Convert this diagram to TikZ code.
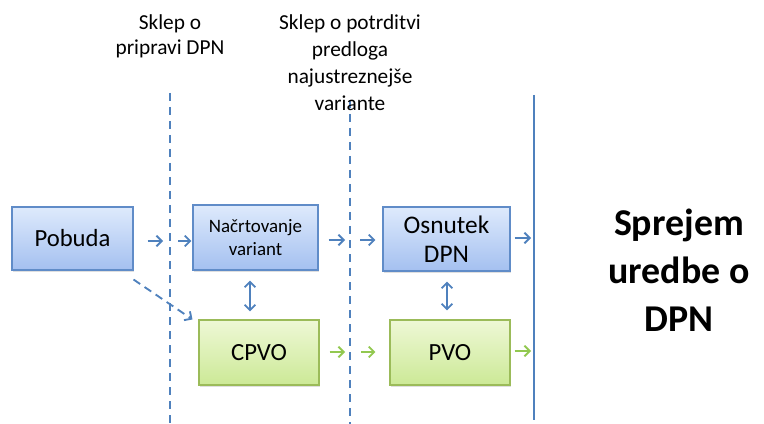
\documentclass[tikz,border=0pt]{standalone}
\usepackage{fontspec}
\setmainfont{Carlito}
\usetikzlibrary{arrows.meta,calc,shadows}
\definecolor{lineblue}{RGB}{79,129,189}
\definecolor{boxedge}{RGB}{96,140,200}
\definecolor{bluetop}{RGB}{222,234,252}
\definecolor{bluebot}{RGB}{164,192,240}
\definecolor{greenedge}{RGB}{155,187,89}
\definecolor{greentop}{RGB}{238,248,214}
\definecolor{greenbot}{RGB}{204,233,150}
\definecolor{greenarr}{RGB}{146,200,80}
\begin{document}
\begin{tikzpicture}[x=0.75pt,y=0.75pt,yscale=-1,xscale=1,
  bluebox/.style={draw=boxedge, line width=0.8pt, top color=bluetop, bottom color=bluebot,
    minimum width=92pt, minimum height=48pt, align=center, inner sep=2pt,
    drop shadow={shadow xshift=1pt, shadow yshift=-1.2pt, opacity=0.25}},
  greenbox/.style={bluebox, draw=greenedge, top color=greentop, bottom color=greenbot},
  barr/.style={draw=lineblue, line width=1.4pt, -{Straight Barb[length=4pt,width=8pt]}},
  garr/.style={barr, draw=greenarr},
  darr/.style={barr, {Straight Barb[length=4pt,width=8pt]}-{Straight Barb[length=4pt,width=8pt]}},
  mark line/.style={draw=lineblue, line width=1.3pt, dash pattern=on 6pt off 4.5pt}]
\path[use as bounding box] (0,0) rectangle (764,424);

% Gate lines
\draw[mark line] (170,93) coordinate (g1top) -- (170,424) coordinate (g1bot);
\draw[mark line] (350,100) coordinate (g2top) -- (350,424) coordinate (g2bot);
\draw[draw=lineblue, line width=1.6pt] (534,95) coordinate (g3top) -- (534,420) coordinate (g3bot);
\coordinate (g1up) at (170,241);
\coordinate (g2up) at (350,240);
\coordinate (g2dn) at (350,352);
\coordinate (g3up) at (534,238);
\coordinate (g3dn) at (534,351);

% Boxes
\node[bluebox, minimum width=90.75pt, minimum height=47.25pt, font=\fontsize{18.5}{21}\selectfont] (pobuda) at (72.5,238.5) {Pobuda};
\node[bluebox, minimum width=93.75pt, minimum height=48.75pt, font=\fontsize{14.2}{17.3}\selectfont] (nacrt) at (255.5,237.5) {Načrtovanje\\variant};
\node[bluebox, minimum width=95.25pt, minimum height=48pt, font=\fontsize{19}{21.5}\selectfont] (osnutek) at (446.5,239) {Osnutek\\DPN};
\node[greenbox, minimum width=90pt, minimum height=48.75pt, font=\fontsize{18.5}{21}\selectfont] (cpvo) at (259,352.5) {CPVO};
\node[greenbox, minimum width=90pt, minimum height=48.75pt, font=\fontsize{18.5}{21}\selectfont] (pvo) at (450,352.5) {PVO};

% Arrows
\draw[barr, shorten <=10.5pt, shorten >=5.25pt] (pobuda.east |- g1up) -- (g1up);
\draw[barr, shorten <=6pt, shorten >=0.75pt] (g1up) -- (nacrt.west |- g1up);
\draw[barr, shorten <=7.5pt, shorten >=3.75pt] (nacrt.east |- g2up) -- (g2up);
\draw[barr, shorten <=7.5pt, shorten >=5.25pt] (g2up) -- (osnutek.west |- g2up);
\draw[barr, shorten <=3pt, shorten >=2.25pt] (osnutek.east |- g3up) -- (g3up);
\draw[garr, shorten <=7.5pt, shorten >=3.75pt] (cpvo.east |- g2dn) -- (g2dn);
\draw[garr, shorten <=8.25pt, shorten >=10.5pt] (g2dn) -- (pvo.west |- g2dn);
\draw[garr, shorten <=3pt, shorten >=2.25pt] (pvo.east |- g3dn) -- (g3dn);
\draw[darr, shorten <=7.5pt, shorten >=6pt] (nacrt.south -| 250,0) -- (cpvo.north -| 250,0);
\draw[darr, shorten <=7.5pt, shorten >=6.75pt] (osnutek.south -| 447,0) -- (pvo.north -| 447,0);
\draw[barr, dash pattern=on 6pt off 4pt] ($(pobuda.south east)+(0,9)$) -- ($(cpvo.north west)+(-6,0)$);

% Text Node
\node[align=center, font=\fontsize{16}{18.75}\selectfont, fill=white, inner sep=1pt] (sklep1) at (170,36.5) {Sklep o\\pripravi DPN};
% Text Node
\node[align=center, font=\fontsize{16}{20.25}\selectfont, inner sep=1pt] (sklep2) at (350,62.5) {Sklep o potrditvi\\predloga\\najustreznejše\\variante};
% Text Node
\node[align=center, font=\bfseries\fontsize{28.4}{36}\selectfont] (sprejem) at (679,270) {Sprejem\\uredbe o\\DPN};

\end{tikzpicture}
\end{document}
